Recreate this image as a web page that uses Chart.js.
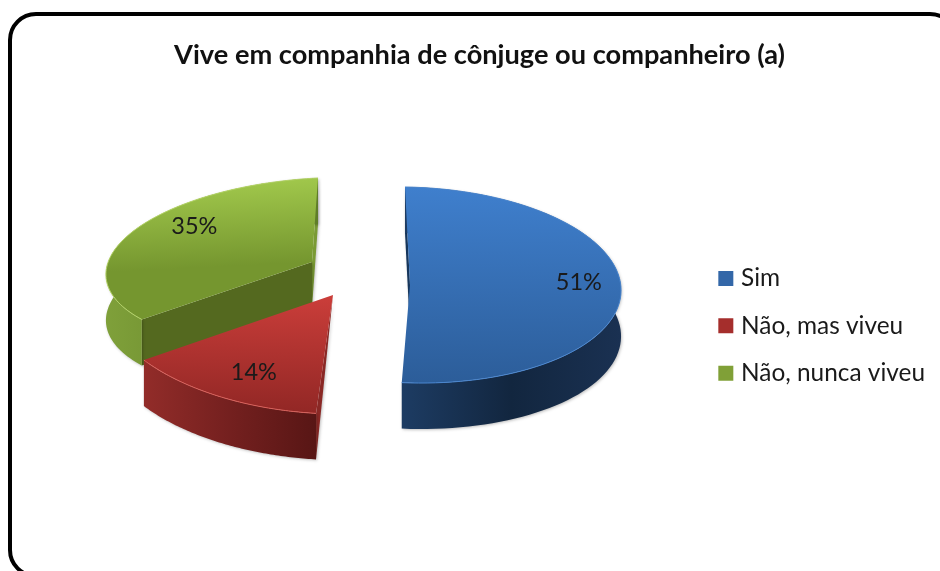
<!DOCTYPE html>
<html><head><meta charset="utf-8">
<style>html,body{margin:0;padding:0;background:#fff}#w{width:940px;height:571px;overflow:hidden}</style>
<script src="https://cdn.jsdelivr.net/npm/chart.js@4/dist/chart.umd.min.js"></script>
</head><body><div id="w"><canvas id="c" width="940" height="571"></canvas></div>
<script>
const titleText = 'Vive em companhia de cônjuge ou companheiro (a)';
const categories = ['Sim', 'Não, mas viveu', 'Não, nunca viveu'];
const values = [51, 14, 35];

// styling / 3D look (no data here)
const topColors  = [['#3f7fcd','#2c5d99'],['#cb3e3a','#922725'],['#a0c74b','#75962f']];
const gradSpan   = [[-1,1],[0,1],[-1,0]];
const wallColors = [['#1d3c63','#12263f','#1a3152'],['#922c29','#74201f','#581615'],['#7fa03a','#6c8c2e','#5f7d28']];
const rimColors  = ['#4a86cf','#d9605a','#b4d368'];
const faceColors = ['#16365c','#8a2825','#54691f'];
const legendFill = ['#4a84cc','#c8504c','#a0c450'];
const legendEdge = ['#3367a8','#a52e2c','#80a037'];
const drawOrder  = [2, 0, 1];
const DEPTH = 46;
const PIVOT = {x: 365, y: 285};
// explode offset and projected axes of each slice (perspective tilt)
const proj = [
  {off:[45,0],    U:[211,3],  V:[5,98]},
  {off:[-32,10],  U:[232,6],  V:[-2.4,119]},
  {off:[-53,-23], U:[206,-10],V:[-6,84]}
];
const labelFrac = 0.8;
const labelNudge = [[0,-7],[12,-4],[27,-12]];

function pt(el, i, a, lift){
  const p = proj[i];
  return {
    x: PIVOT.x + p.off[0] + Math.cos(a)*p.U[0] + Math.sin(a)*p.V[0],
    y: PIVOT.y + p.off[1] + Math.cos(a)*p.U[1] + Math.sin(a)*p.V[1] + (lift||0)
  };
}
function apex(i, lift){
  const p = proj[i];
  return {x: PIVOT.x+p.off[0], y: PIVOT.y+p.off[1]+(lift||0)};
}
function poly(ctx, pts, fill, shadow){
  ctx.save();
  if(shadow){ctx.shadowColor='rgba(0,0,0,.25)';ctx.shadowBlur=3;ctx.shadowOffsetX=1;ctx.shadowOffsetY=1;}
  ctx.beginPath();
  pts.forEach((q,k)=>k?ctx.lineTo(q.x,q.y):ctx.moveTo(q.x,q.y));
  ctx.closePath();ctx.fillStyle=fill;ctx.fill();ctx.restore();
}
function arcPts(el,i,lift){
  const out=[],n=80;
  for(let k=0;k<=n;k++){out.push(pt(el,i,el.startAngle+(el.endAngle-el.startAngle)*k/n,lift));}
  return out;
}
const pie3d = {
  id:'pie3d',
  beforeDraw(chart){
    const c=chart.ctx;
    c.save();c.lineWidth=4;c.strokeStyle='#000';c.beginPath();
    c.roundRect(10,14,946,562,26);c.stroke();c.restore();
  },
  beforeDatasetDraw(chart,args){
    const c=chart.ctx, els=args.meta.data;
    drawOrder.forEach(i=>{
      const el=els[i], a0=el.startAngle, a1=el.endAngle;
      const top=arcPts(el,i,0), bot=arcPts(el,i,DEPTH);
      // cut faces
      if(i===0){poly(c,[pt(el,i,a0),pt(el,i,a0,DEPTH),apex(i,DEPTH),apex(i)],faceColors[i],true);}
      if(i===1){poly(c,[apex(i),pt(el,i,a0,DEPTH),pt(el,i,a0)],faceColors[i],true);}
      if(i===2){
        poly(c,[pt(el,i,a1),pt(el,i,a1,DEPTH),apex(i,DEPTH),apex(i)],'#7a9a34',true);
        poly(c,[apex(i),pt(el,i,a0),pt(el,i,a0,DEPTH),apex(i,DEPTH)],faceColors[i],true);
      }
      // outer wall
      const xs=top.map(q=>q.x), g=c.createLinearGradient(Math.min(...xs),0,Math.max(...xs),0);
      wallColors[i].forEach((col,k)=>g.addColorStop(k/2,col));
      poly(c,top.concat(bot.slice().reverse()),g,true);
      // top surface through the library's arc element
      c.save();
      const p=proj[i],R=el.outerRadius;
      c.translate(PIVOT.x+p.off[0],PIVOT.y+p.off[1]);
      c.transform(p.U[0]/R,p.U[1]/R,p.V[0]/R,p.V[1]/R,0,0);
      c.translate(-el.x,-el.y);
      el.draw(c,chart.chartArea);
      c.restore();
      // rim highlight
      c.save();c.strokeStyle=rimColors[i];c.lineWidth=1;c.beginPath();
      top.forEach((q,k)=>{ if(k) c.lineTo(q.x,q.y); else c.moveTo(q.x,q.y); });
      c.stroke();c.restore();
    });
    return false;
  },
  afterDatasetsDraw(chart){
    const c=chart.ctx, els=chart.getDatasetMeta(0).data;
    c.save();c.font='23.5px Lato';c.fillStyle='#1a1a1a';c.textAlign='center';c.textBaseline='middle';
    els.forEach((el,i)=>{
      const m=(el.startAngle+el.endAngle)/2,p=proj[i],o=apex(i);
      const x=o.x+labelFrac*(Math.cos(m)*p.U[0]+Math.sin(m)*p.V[0])+labelNudge[i][0];
      const y=o.y+labelFrac*(Math.cos(m)*p.U[1]+Math.sin(m)*p.V[1])+labelNudge[i][1];
      c.fillText(values[i]+'%',x,y);
    });
    c.restore();
  }
};
new Chart(document.getElementById('c'),{
  type:'pie',
  data:{labels:categories,datasets:[{
    data:values,borderWidth:0,radius:200,
    backgroundColor(ctx){
      const ch=ctx.chart,a=ch.chartArea,i=ctx.dataIndex;
      if(!a||i===undefined) return topColors[i||0][0];
      const cy=(a.top+a.bottom)/2,R=200;
      const g=ch.ctx.createLinearGradient(0,cy+gradSpan[i][0]*R,0,cy+gradSpan[i][1]*R);
      g.addColorStop(0,topColors[i][0]);g.addColorStop(1,topColors[i][1]);
      return g;
    }
  }]},
  options:{
    responsive:false,animation:false,
    layout:{padding:{left:24,right:5,top:0,bottom:0}},
    plugins:{
      tooltip:{enabled:false},
      title:{display:true,text:titleText,color:'#111',font:{family:'Lato',size:27.2,weight:'bold'},padding:{top:39,bottom:9}},
      legend:{position:'right',fullSize:false,labels:{
        color:'#1a1a1a',font:{family:'Lato',size:24.4},boxWidth:6,boxHeight:6,padding:23,
        generateLabels:()=>categories.map((t,i)=>({text:t,fillStyle:legendFill[i],strokeStyle:legendEdge[i],lineWidth:9,hidden:false,index:i,fontColor:'#1a1a1a'}))
      }}
    }
  },
  plugins:[pie3d]
});
</script></body></html>
